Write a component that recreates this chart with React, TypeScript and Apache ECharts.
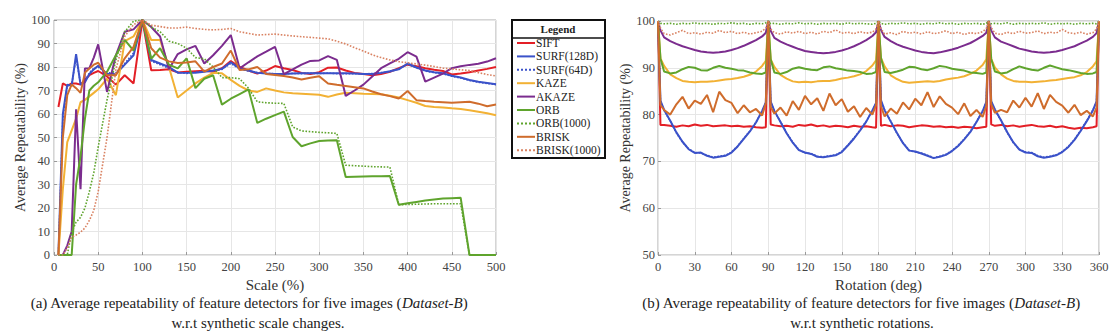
import React, { useEffect, useRef } from "react";
import * as echarts from "echarts";

const seriesNames = ["SIFT", "SURF(128D)", "SURF(64D)", "KAZE", "AKAZE", "ORB", "ORB(1000)", "BRISK", "BRISK(1000)"];
const seriesColors = ["#e31f26", "#3b52c9", "#3b52c9", "#f2b134", "#7b2c8e", "#5fa42d", "#5fa42d", "#cf6c2c", "#d98262"];
const seriesDotted = [false, false, true, false, false, false, true, false, true];

// ---- (a) scale changes ----
const scales = [5, 10, 15, 20, 25, 30, 35, 40, 45, 50, 60, 70, 80, 90, 100, 110, 120, 130, 140, 150, 160, 170, 180, 190, 200, 210, 220, 230, 240, 250, 260, 270, 280, 290, 300, 310, 320, 330, 340, 350, 360, 370, 380, 390, 400, 410, 420, 430, 440, 450, 460, 470, 480, 490, 500];
const scaleSIFT = [63, 73, 72, 73, 73, 72.5, 74.5, 76.5, 77.5, 78.3, 76, 72.5, 76.5, 73, 100, 78.6, 78.7, 79, 77.7, 78, 78.2, 78.4, 78, 79.5, 82.5, 80, 78.5, 77.2, 78.5, 80.4, 79.5, 78.7, 77.5, 77, 77.8, 79.7, 79.8, 78.5, 77.5, 77, 76.5, 77, 78, 79.5, 81, 80.3, 79.5, 78.8, 78.3, 76.8, 77.2, 77.8, 78.5, 79.2, 80];
const scaleSURF128 = [0, 60, 72.5, 72, 85.5, 72.5, 73.5, 77, 79, 80.5, 77, 77, 81, 85, 100, 83, 81.5, 80, 77.6, 77.5, 77.6, 78, 78.5, 79.2, 82, 79.4, 78.5, 77.5, 77.2, 77, 77, 77.2, 77.3, 77.3, 77.3, 77.3, 77.3, 77.3, 77.2, 77, 77, 77.5, 78.2, 79, 81.5, 79.8, 78.5, 77.8, 77.3, 76.3, 75.5, 74.5, 73.7, 73.2, 72.7];
const scaleSURF64 = [0, 58, 72, 72.5, 84, 73, 74, 77.5, 79.5, 80, 77.5, 77.5, 81.5, 86, 100, 82.5, 81, 79.5, 77.8, 77.3, 77.8, 78.2, 78.3, 79, 81.5, 79.2, 78.3, 77.6, 77.3, 77.1, 77.1, 77.3, 77.2, 77.4, 77.2, 77.4, 77.2, 77.2, 77.1, 77.1, 77.2, 77.6, 78, 79.2, 81.2, 79.6, 78.3, 77.6, 77.1, 76.1, 75.3, 74.3, 73.5, 73, 72.5];
const scaleKAZE = [0, 28, 48, 53, 58, 65, 66, 67.5, 69, 70.5, 75, 68, 91, 93, 100, 91.5, 91.5, 80, 67, 70, 73, 75.5, 77.5, 77.3, 74.5, 72, 70, 69.4, 70.9, 70, 69.2, 68.8, 68.6, 68.4, 68.2, 67.3, 68.3, 69, 68.8, 68.6, 68.5, 68.4, 67.8, 67, 65.9, 64.8, 63.4, 63, 62.8, 62.4, 62.1, 61.6, 61, 60.3, 59.5];
const scaleAKAZE = [0, 0, 4, 10, 62, 28, 79.4, 79.5, 84, 89.6, 69.4, 85, 95, 96, 100, 97, 93, 79, 85.5, 87.5, 89, 81.5, 85, 89, 93.6, 79.4, 82, 84.5, 86.5, 88.6, 77, 79, 81, 82.6, 82.8, 84.6, 83, 67.7, 70, 72.5, 76, 79.5, 81.5, 83.5, 86.3, 84.4, 73.8, 75.5, 77.2, 79.5, 80.3, 80.9, 81.4, 82.3, 83.7];
const scaleORB = [0, 0, 0, 0, 30, 42, 58, 70, 72, 73.5, 78, 85, 91.5, 87, 100, 83.5, 88, 81, 79.4, 83.7, 71, 75, 76.5, 64, 66.5, 68.5, 70.5, 56.2, 58, 59.5, 61, 50.2, 46.3, 47.5, 48.5, 48.7, 48.8, 33.2, 33.3, 33.4, 33.5, 33.5, 33.6, 21.4, 22, 22.6, 23.2, 23.6, 24, 24.2, 24.4, 0, 0, 0, 0];
const scaleORB1000 = [0, 0, 0, 9.7, 14, 16, 20, 27, 35, 46, 66, 83, 95, 99.5, 100, 97, 95, 91, 90, 88, 84, 83.5, 80, 75.5, 75.5, 75, 71, 65.2, 64.8, 64.6, 64.5, 54.5, 52.8, 52.5, 52.2, 52, 51.7, 38.2, 38, 37.8, 37.6, 37.5, 37.4, 21.4, 21.5, 21.6, 21.7, 21.8, 21.8, 21.8, 21.8, 0, 0, 0, 0];
const scaleBRISK = [0, 50, 68, 72.6, 71, 69, 77.6, 79.4, 81, 81.8, 76.5, 76.5, 83.7, 88.6, 100, 88, 84, 82.4, 81.7, 81.9, 82.4, 78, 80, 81.5, 87, 78.7, 79, 80, 77, 76.6, 76.2, 75.5, 74.7, 75.4, 76.1, 73, 72.4, 71.9, 71.4, 70.9, 69.6, 68.4, 67.6, 66.6, 69.8, 65.9, 65.5, 65.2, 65, 64.8, 65, 65.2, 64.4, 63.3, 64];
const scaleBRISK1000 = [0, 0, 3, 7.6, 8.5, 9.7, 11.5, 14.7, 19, 27, 50, 79, 93, 98, 100, 97.8, 97.2, 96.6, 96.6, 97, 96.4, 96, 95.8, 96, 96.4, 95, 94.3, 93.6, 93.8, 94, 93.6, 93.2, 92.9, 92.6, 92.3, 92, 91, 89.8, 88.2, 86.8, 85.2, 84, 83, 82.3, 81.8, 81.3, 80.8, 80.2, 79.5, 79.2, 78.8, 78.5, 77.6, 76.8, 76.2];

// ---- (b) rotations ----
const rotAngles = [
  0, 2, 5, 10, 15, 20, 25, 30, 35, 40, 45, 50, 55, 60, 65, 70, 75, 80, 85, 88,
  90, 92, 95, 100, 105, 110, 115, 120, 125, 130, 135, 140, 145, 150, 155, 160, 165, 170, 175, 178,
  180, 182, 185, 190, 195, 200, 205, 210, 215, 220, 225, 230, 235, 240, 245, 250, 255, 260, 265, 268,
  270, 272, 275, 280, 285, 290, 295, 300, 305, 310, 315, 320, 325, 330, 335, 340, 345, 350, 355, 358,
  360,
];
const rotSIFT = [
  100, 77.8, 77.8, 77.6, 77.4, 77.7, 77.5, 77.9, 77.6, 77.8, 77.5, 77.6, 77.7, 77.5, 77.6, 77.4, 77.5, 77.3, 77.2, 77.3,
  100, 77.9, 77.7, 77.5, 77.6, 77.4, 77.8, 77.6, 77.9, 77.5, 77.7, 77.4, 77.6, 77.5, 77.3, 77.6, 77.4, 77.5, 77.3, 77.2,
  100, 77.6, 77.8, 77.5, 77.7, 77.6, 77.3, 77.5, 77.7, 77.6, 77.4, 77.5, 77.3, 77.4, 77.2, 77.4, 77.3, 77.1, 77.3, 77.4,
  100, 77.9, 77.6, 77.8, 77.5, 77.7, 77.4, 77.6, 77.8, 77.5, 77.4, 77.6, 77.3, 77.5, 77.2, 77.0, 77.2, 77.1, 77.3, 77.5,
  100,
];
const rotSURF128 = [
  100, 83.0, 81.0, 78.7, 76.2, 74.2, 72.6, 71.8, 71.9, 71.2, 70.8, 71.0, 71.2, 71.9, 73.2, 74.8, 76.4, 78.3, 80.8, 82.6,
  100, 82.8, 80.8, 78.4, 76.0, 74.0, 72.4, 71.9, 71.6, 71.0, 70.9, 71.1, 71.3, 72.0, 73.4, 74.9, 76.6, 78.5, 80.9, 82.5,
  100, 83.1, 80.9, 78.5, 76.1, 73.9, 72.3, 72.1, 71.7, 71.2, 70.7, 71.0, 71.4, 72.2, 73.3, 74.7, 76.3, 78.4, 80.7, 82.7,
  100, 82.9, 81.1, 78.8, 76.3, 74.1, 72.5, 71.9, 71.8, 71.1, 70.8, 71.0, 71.3, 72.0, 73.1, 74.6, 76.5, 78.6, 80.9, 82.8,
  100,
];
const rotSURF64 = [
  100, 82.9, 80.9, 78.6, 76.1, 74.1, 72.7, 71.9, 71.8, 71.3, 70.9, 71.1, 71.3, 72.0, 73.3, 74.9, 76.5, 78.4, 80.7, 82.5,
  100, 82.7, 80.7, 78.5, 76.1, 74.1, 72.5, 71.8, 71.7, 71.1, 71.0, 71.2, 71.4, 72.1, 73.5, 75.0, 76.7, 78.6, 80.8, 82.4,
  100, 83.0, 81.0, 78.6, 76.0, 74.0, 72.4, 72.0, 71.8, 71.3, 70.8, 71.1, 71.5, 72.3, 73.4, 74.8, 76.4, 78.5, 80.8, 82.6,
  100, 82.8, 81.0, 78.7, 76.2, 74.0, 72.6, 72.0, 71.9, 71.2, 70.9, 71.1, 71.4, 72.1, 73.2, 74.7, 76.6, 78.7, 81.0, 82.7,
  100,
];
const rotKAZE = [
  100, 92.0, 90.4, 88.6, 87.8, 87.2, 87.0, 86.9, 87.0, 87.0, 87.1, 87.3, 87.5, 87.6, 87.8, 88.1, 88.5, 89.2, 90.4, 91.5,
  100, 91.8, 90.2, 88.5, 87.7, 87.1, 86.9, 87.0, 86.9, 87.1, 87.2, 87.2, 87.4, 87.7, 87.9, 88.2, 88.6, 89.3, 90.5, 91.6,
  100, 92.1, 90.3, 88.4, 87.6, 87.0, 86.8, 86.9, 87.0, 87.1, 87.0, 87.2, 87.5, 87.7, 87.9, 88.2, 88.7, 89.4, 90.6, 91.8,
  100, 91.9, 90.1, 88.6, 87.7, 87.2, 87.0, 87.0, 86.9, 87.0, 87.1, 87.3, 87.4, 87.6, 87.8, 88.0, 88.4, 89.1, 90.3, 91.4,
  100,
];
const rotAKAZE = [
  100, 98.0, 96.5, 95.7, 95.1, 94.6, 94.2, 93.8, 93.5, 93.3, 93.2, 93.3, 93.5, 93.8, 94.2, 94.7, 95.3, 95.9, 96.7, 97.5,
  100, 97.9, 96.4, 95.6, 95.0, 94.5, 94.0, 93.6, 93.4, 93.2, 93.1, 93.2, 93.4, 93.7, 94.1, 94.6, 95.2, 95.9, 96.8, 97.6,
  100, 98.1, 96.6, 95.7, 95.0, 94.5, 94.1, 93.7, 93.4, 93.2, 93.1, 93.3, 93.6, 93.9, 94.3, 94.8, 95.3, 96.0, 96.8, 97.5,
  100, 98.0, 96.5, 95.6, 95.1, 94.6, 94.1, 93.8, 93.5, 93.3, 93.2, 93.3, 93.5, 93.8, 94.2, 94.6, 95.2, 95.8, 96.6, 97.4,
  100,
];
const rotORB = [
  100, 92.0, 89.2, 88.8, 89.0, 89.7, 90.2, 90.0, 89.5, 89.4, 90.0, 90.4, 90.0, 89.8, 89.5, 89.4, 89.0, 88.8, 88.7, 89.0,
  100, 91.8, 89.0, 88.7, 89.1, 89.8, 90.1, 89.8, 89.6, 89.5, 90.1, 90.3, 89.9, 89.7, 89.4, 89.3, 89.1, 88.7, 88.8, 89.1,
  100, 92.1, 89.1, 88.9, 89.2, 89.6, 90.2, 90.1, 89.7, 89.5, 89.9, 90.4, 90.2, 89.8, 89.6, 89.4, 89.0, 88.9, 88.7, 89.0,
  100, 91.9, 89.2, 88.8, 89.0, 89.7, 90.3, 89.9, 89.6, 89.4, 90.0, 90.5, 90.1, 89.7, 89.5, 89.2, 88.9, 88.7, 88.8, 89.1,
  100,
];
const rotORB1000 = [
  100, 99.5, 99.4, 99.5, 99.3, 99.5, 99.4, 99.6, 99.4, 99.5, 99.3, 99.5, 99.4, 99.6, 99.4, 99.5, 99.3, 99.5, 99.4, 99.6,
  100, 99.4, 99.5, 99.3, 99.5, 99.4, 99.6, 99.4, 99.5, 99.3, 99.5, 99.4, 99.5, 99.3, 99.6, 99.4, 99.5, 99.4, 99.3, 99.5,
  100, 99.5, 99.3, 99.5, 99.4, 99.6, 99.4, 99.5, 99.3, 99.5, 99.4, 99.6, 99.4, 99.5, 99.3, 99.5, 99.4, 99.5, 99.3, 99.5,
  100, 99.4, 99.5, 99.4, 99.6, 99.3, 99.5, 99.4, 99.5, 99.4, 99.6, 99.3, 99.5, 99.4, 99.5, 99.3, 99.5, 99.4, 99.5, 99.4,
  100,
];
const rotBRISK = [
  100, 82.0, 81.0, 80.0, 82.2, 83.8, 81.3, 83.0, 82.3, 84.2, 80.5, 84.9, 83.1, 82.5, 80.3, 82.0, 80.5, 81.2, 79.8, 82.4,
  100, 81.6, 80.2, 81.5, 79.8, 82.9, 81.0, 84.0, 82.2, 83.5, 80.8, 84.5, 82.0, 83.3, 80.6, 81.8, 79.5, 81.4, 80.0, 82.0,
  100, 81.8, 79.6, 81.3, 80.2, 82.6, 81.1, 83.4, 82.0, 84.8, 81.6, 83.9, 82.3, 81.5, 80.1, 82.4, 79.7, 81.0, 79.5, 81.8,
  100, 82.2, 80.4, 81.0, 80.5, 83.0, 81.5, 83.6, 81.7, 84.6, 81.2, 84.2, 82.7, 81.9, 80.4, 82.1, 79.9, 80.8, 79.6, 81.5,
  100,
];
const rotBRISK1000 = [
  100, 98.5, 97.3, 97.0, 97.5, 98.0, 97.3, 97.5, 97.2, 97.6, 97.4, 98.0, 97.5, 97.8, 97.3, 97.6, 97.2, 97.5, 97.8, 98.5,
  100, 98.3, 97.5, 97.2, 97.7, 97.4, 97.8, 97.3, 97.6, 97.2, 97.8, 97.5, 98.1, 97.4, 97.6, 97.3, 97.7, 97.4, 97.6, 98.3,
  100, 98.4, 97.2, 97.5, 97.1, 97.8, 97.4, 97.6, 97.2, 97.7, 97.3, 97.5, 97.9, 97.3, 97.6, 97.1, 97.5, 97.3, 97.7, 98.4,
  100, 98.6, 97.4, 97.1, 97.6, 97.3, 97.8, 97.4, 97.5, 97.9, 97.3, 97.6, 97.4, 98.2, 97.5, 97.3, 97.6, 97.2, 97.5, 98.3,
  100,
];

const scaleSeries = [scaleSIFT, scaleSURF128, scaleSURF64, scaleKAZE, scaleAKAZE, scaleORB, scaleORB1000, scaleBRISK, scaleBRISK1000];
const rotSeries = [rotSIFT, rotSURF128, rotSURF64, rotKAZE, rotAKAZE, rotORB, rotORB1000, rotBRISK, rotBRISK1000];

const FONT = "Liberation Serif";

function buildOption(): any {
  const mkAxisCommon = (gridIndex: number) => ({
    gridIndex,
    axisLine: { show: false },
    axisTick: { show: true, inside: true, length: 3, lineStyle: { color: "#999" } },
    splitLine: { show: true, lineStyle: { color: "#e6e6e6", width: 1 } },
    nameTextStyle: { fontFamily: FONT, fontSize: 15, color: "#333" },
  });
  const lab = (margin: number) => ({ fontFamily: FONT, fontSize: 12.5, color: "#444", margin });

  const series: any[] = [];
  seriesNames.forEach((name, k) => {
    const lineStyle = {
      color: seriesColors[k],
      width: seriesDotted[k] ? 1.6 : 2,
      type: seriesDotted[k] ? "dotted" : "solid",
    };
    series.push({
      name,
      type: "line",
      xAxisIndex: 0,
      yAxisIndex: 0,
      symbol: "none",
      color: seriesColors[k],
      lineStyle,
      data: scales.map((s, i) => [s, scaleSeries[k][i]]),
    });
    series.push({
      name,
      type: "line",
      xAxisIndex: 1,
      yAxisIndex: 1,
      symbol: "none",
      color: seriesColors[k],
      lineStyle,
      data: rotAngles.map((a, i) => [a, rotSeries[k][i]]),
    });
  });

  const captionStyle = (text: string) => ({
    text,
    rich: { i: { fontStyle: "italic", fontFamily: FONT, fontSize: 15, fill: "#222" } },
    fontFamily: FONT,
    fontSize: 15,
    fill: "#222",
    align: "center",
    verticalAlign: "middle",
  });

  return {
    animation: false,
    backgroundColor: "#ffffff",
    textStyle: { fontFamily: FONT },
    grid: [
      { left: 54, top: 20, width: 442, height: 235, show: true, borderColor: "#aaaaaa", borderWidth: 1, backgroundColor: "#fff" },
      { left: 658, top: 21, width: 441, height: 234, show: true, borderColor: "#aaaaaa", borderWidth: 1, backgroundColor: "#fff" },
    ],
    xAxis: [
      {
        ...mkAxisCommon(0),
        type: "value",
        min: 0,
        max: 500,
        interval: 50,
        name: "Scale (%)",
        nameLocation: "middle",
        nameGap: 20,
        axisLabel: lab(5),
      },
      {
        ...mkAxisCommon(1),
        type: "value",
        min: 0,
        max: 360,
        interval: 30,
        name: "Rotation (deg)",
        nameLocation: "middle",
        nameGap: 20,
        axisLabel: lab(5),
      },
    ],
    yAxis: [
      {
        ...mkAxisCommon(0),
        type: "value",
        min: 0,
        max: 100,
        interval: 10,
        name: "Average Repeatability (%)",
        nameLocation: "middle",
        nameGap: 25,
        nameTextStyle: { fontFamily: FONT, fontSize: 14, color: "#333" },
        axisLabel: lab(4),
      },
      {
        ...mkAxisCommon(1),
        type: "value",
        min: 50,
        max: 100,
        interval: 10,
        name: "Average Repeatability (%)",
        nameLocation: "middle",
        nameGap: 22,
        nameTextStyle: { fontFamily: FONT, fontSize: 14, color: "#333" },
        axisLabel: lab(3),
      },
    ],
    legend: {
      data: seriesNames,
      orient: "vertical",
      left: 516,
      top: 37,
      itemWidth: 18,
      itemHeight: 12,
      itemGap: 1.4,
      padding: 0,
      selectedMode: false,
      itemStyle: { opacity: 0 },
      textStyle: { fontFamily: FONT, fontSize: 11.5, color: "#222", lineHeight: 12, padding: [0, 0, 0, -4] },
    },
    graphic: [
      {
        type: "rect",
        z: 0,
        shape: { x: 512, y: 20, width: 93, height: 138 },
        style: { fill: "#fff", stroke: "#111", lineWidth: 2 },
      },
      {
        type: "line",
        z: 0,
        shape: { x1: 512, y1: 38, x2: 605, y2: 38 },
        style: { stroke: "#111", lineWidth: 1.5 },
      },
      {
        type: "text",
        z: 1,
        x: 558,
        y: 29,
        style: { text: "Legend", fontFamily: FONT, fontSize: 11, fontWeight: "bold", fill: "#222", align: "center", verticalAlign: "middle" },
      },
      {
        type: "text",
        x: 249,
        y: 303,
        style: captionStyle("(a) Average repeatability of feature detectors for five images ({i|Dataset-B})"),
      },
      {
        type: "text",
        x: 258,
        y: 323,
        style: captionStyle("w.r.t synthetic scale changes."),
      },
      {
        type: "text",
        x: 861,
        y: 303,
        style: captionStyle("(b) Average repeatability of feature detectors for five images ({i|Dataset-B})"),
      },
      {
        type: "text",
        x: 862,
        y: 323,
        style: captionStyle("w.r.t synthetic rotations."),
      },
    ],
    series,
  };
}

export default function App() {
  const ref = useRef<HTMLDivElement>(null);
  useEffect(() => {
    if (!ref.current) return;
    const chart = echarts.init(ref.current, undefined, { renderer: "svg" });
    chart.setOption(buildOption());
    return () => chart.dispose();
  }, []);
  return (
    <div
      ref={ref}
      style={{ position: "absolute", left: 0, top: 0, width: 1120, height: 334, background: "#fff" }}
    />
  );
}
